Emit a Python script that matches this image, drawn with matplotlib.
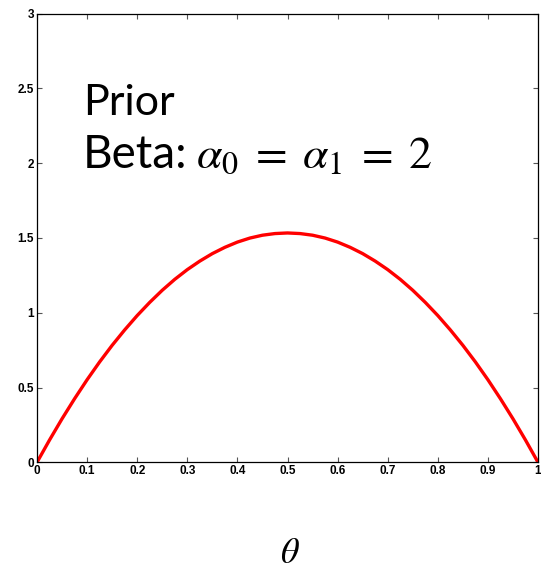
## Beta(2,2) prior density plot

import numpy as np
import matplotlib.pyplot as plt

##Prior density values, theta in steps of 0.025
theta = np.linspace(0, 1, 41)
density_left = [0.0, 0.149, 0.291, 0.425, 0.552, 0.671, 0.782, 0.885, 0.981, 1.069,
                1.150, 1.223, 1.288, 1.345, 1.395, 1.437, 1.472, 1.499, 1.518, 1.529]
density_peak = [1.533]
density = density_left + density_peak + density_left[::-1]

xticks = [0, 0.1, 0.2, 0.3, 0.4, 0.5, 0.6, 0.7, 0.8, 0.9, 1]
xticklabels = ['0', '0.1', '0.2', '0.3', '0.4', '0.5', '0.6', '0.7', '0.8', '0.9', '1']
yticks = [0, 0.5, 1, 1.5, 2, 2.5, 3]
yticklabels = ['0', '0.5', '1', '1.5', '2', '2.5', '3']

plt.rcParams['mathtext.fontset'] = 'stix'

fig = plt.figure(figsize=(5.41, 5.72), dpi=100)
ax = fig.add_axes([37 / 541, 109.7 / 572, 501 / 541, 448.8 / 572])

ax.plot(theta, density, color='#ff0000', linewidth=2.4, solid_capstyle='round')

ax.set_xlim(0, 1)
ax.set_ylim(0, 3)
ax.set_xticks(xticks)
ax.set_xticklabels(xticklabels)
ax.set_yticks(yticks)
ax.set_yticklabels(yticklabels)
ax.tick_params(direction='in', top=True, right=True, length=3.5, width=0.8,
               color='#555555', labelsize=8.5, pad=2)
for lab in ax.get_xticklabels() + ax.get_yticklabels():
    lab.set_fontweight('bold')
    lab.set_family('Liberation Sans')
for s in ax.spines.values():
    s.set_linewidth(0.9)

##Annotation text
fig.text(83 / 541, 1 - 115 / 572, 'Prior', fontsize=31, family='Lato',
         ha='left', va='baseline')
fig.text(83 / 541, 1 - 168 / 572, 'Beta:', fontsize=33, family='Lato',
         ha='left', va='baseline')
fig.text(196 / 541, 1 - 168 / 572, r'$\alpha_0\;=\;\alpha_1\;=\;2$', fontsize=33,
         ha='left', va='baseline')

fig.text(290 / 541, 1 - 553 / 572, r'$\theta$', fontsize=26, ha='center', va='center')

fig.savefig('out.png', dpi=100)
